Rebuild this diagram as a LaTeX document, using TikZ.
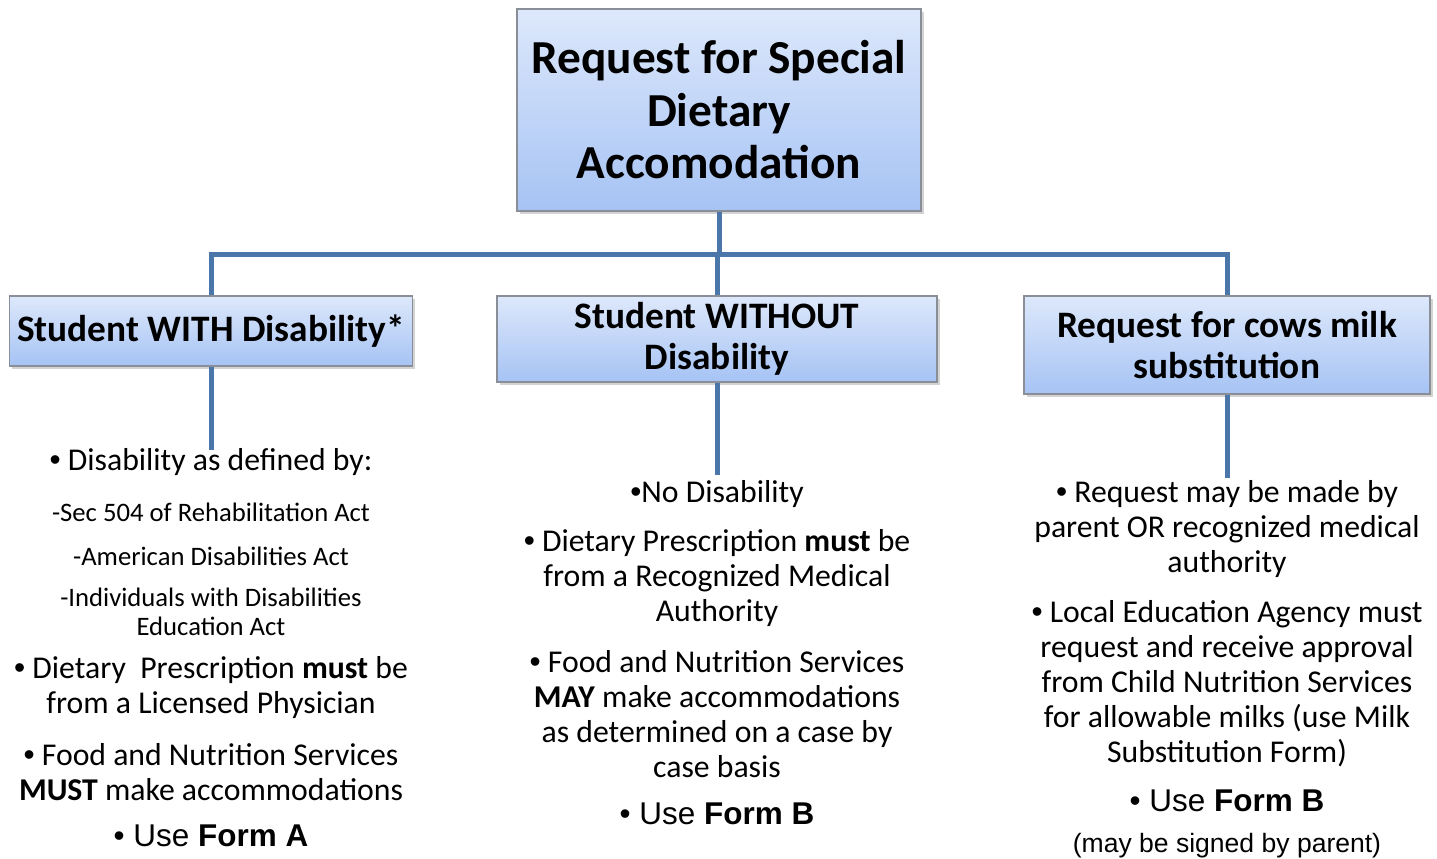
\documentclass[tikz,border=0pt]{standalone}
\usepackage{fontspec}
\setmainfont{Carlito}
\newfontfamily\arialfont{Liberation Sans}
\usetikzlibrary{shadows}

\definecolor{boxtop}{HTML}{DDE8FB}
\definecolor{boxbottom}{HTML}{A6C3F4}
\definecolor{boxline}{HTML}{8A8E96}
\definecolor{connline}{HTML}{4A76AA}

\newcommand{\aufz}{{\arialfont •}}

\begin{document}
\begin{tikzpicture}[x=0.75pt,y=-0.75pt,
		kasten/.style={draw=boxline,line width=0.8pt,top color=boxtop,bottom color=boxbottom,
			drop shadow={opacity=0.35,shadow xshift=2pt,shadow yshift=-2.5pt},
			align=center,inner sep=0pt,font=\bfseries},
		verbinder/.style={draw=connline,line width=3.75pt},
		punkt/.style={align=center,inner sep=0pt,font=\fontsize{23.8}{26.25}\selectfont},
		unterpunkt/.style={align=center,inner sep=0pt,font=\fontsize{20}{21.75}\selectfont},
		formular/.style={align=center,inner sep=0pt,font=\arialfont\fontsize{23.6}{27}\selectfont}]
			% Rahmen festlegen
			\useasboundingbox (0,0) rectangle (1437,859);
			
			% Kaesten zeichnen
			\node[kasten,minimum width=303pt,minimum height=151.5pt,font=\bfseries\fontsize{35.5}{39.4}\selectfont] (top) at (719,110)
				{Request for Special\\Dietary\\Accomodation};
			\node[kasten,minimum width=302.25pt,minimum height=52.5pt,font=\bfseries\fontsize{28}{30.75}\selectfont] (mit) at (211,331)
				{Student WITH Disability*};
			\node[kasten,minimum width=330pt,minimum height=64.5pt,font=\bfseries\fontsize{28}{30.75}\selectfont] (ohne) at (717,339)
				{Student WITHOUT\\Disability};
			\node[kasten,minimum width=304.5pt,minimum height=73.5pt,font=\bfseries\fontsize{28}{30.75}\selectfont] (milch) at (1227,345)
				{Request for cows milk\\substitution};
			
			% Verbindungen zeichnen
			\coordinate (schiene) at (719,254);
			\coordinate (mit-ende) at (211,450);
			\coordinate (ohne-ende) at (717,475);
			\coordinate (milch-ende) at (1227,478);
			\draw[verbinder] (top.south) -- (top.south |- schiene);
			\draw[verbinder] (mit.north) |- (schiene) -| (milch.north);
			\draw[verbinder] (ohne.north) -- (ohne.north |- schiene);
			\draw[verbinder] (mit.south) -- (mit-ende);
			\draw[verbinder] (ohne.south) -- (ohne-ende);
			\draw[verbinder] (milch.south) -- (milch-ende);
			
			% Texte links
			\node[punkt] (mit-def) at (211,462) {\aufz\ Disability as defined by:};
			\node[unterpunkt] (mit-sec) at (211,512) {-Sec 504 of Rehabilitation Act};
			\node[unterpunkt] (mit-ada) at (211,556) {-American Disabilities Act};
			\node[unterpunkt] (mit-idea) at (211,611.5) {-Individuals with Disabilities\\Education Act};
			\node[punkt] (mit-arzt) at (211,688) {\aufz\ Dietary\ \ Prescription \textbf{must} be\\from a Licensed Physician};
			\node[punkt] (mit-fns) at (211,772) {\aufz\ Food and Nutrition Services\\\textbf{MUST} make accommodations};
			\node[formular] (mit-form) at (211,836) {• Use \textbf{Form A}};
			
			% Texte Mitte
			\node[punkt] (ohne-keine) at (717,494) {\aufz No Disability};
			\node[punkt] (ohne-arzt) at (717,578) {\aufz\ Dietary Prescription \textbf{must} be\\from a Recognized Medical\\Authority};
			\node[punkt] (ohne-fns) at (717,714.5) {\aufz\ Food and Nutrition Services\\\textbf{MAY} make accommodations\\as determined on a case by\\case basis};
			\node[formular] (ohne-form) at (717,814) {• Use \textbf{Form B}};
			
			% Texte rechts
			\node[punkt] (milch-antrag) at (1227,529.5) {\aufz\ Request may be made by\\parent OR recognized medical\\authority};
			\node[punkt] (milch-lea) at (1227,684) {\aufz\ Local Education Agency must\\request and receive approval\\from Child Nutrition Services\\for allowable milks (use Milk\\Substitution Form)};
			\node[formular] (milch-form) at (1227,801) {• Use \textbf{Form B}};
			\node[formular,font=\arialfont\fontsize{19.9}{23}\selectfont] (milch-eltern) at (1227,846) {(may be signed by parent)};
	\end{tikzpicture}
\end{document}
